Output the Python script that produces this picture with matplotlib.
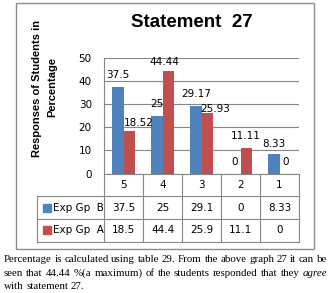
"""Statement 27: clustered bars with an Excel-style data table underneath."""
import matplotlib
matplotlib.use("Agg")
import matplotlib.pyplot as plt
from matplotlib.patches import Rectangle

categories = ["5", "4", "3", "2", "1"]
gp_b       = [37.5, 25, 29.17, 0, 8.33]
gp_a       = [18.52, 44.44, 25.93, 11.11, 0]
table_b    = ["37.5", "25", "29.1", "0", "8.33"]
table_a    = ["18.5", "44.4", "25.9", "11.1", "0"]
series     = ["Exp Gp  B", "Exp Gp  A"]

BLUE, RED, GRID = "#4F81BD", "#C0504D", "#868686"
W, H = 330, 293
BAR_W = 0.29
# label nudges (px) where the spreadsheet moved labels apart
NUDGE_B = [(0, 0), (0, 0), (0, 0), (0, 0), (0, -1)]
NUDGE_A = [(9, -4), (-4, -3), (8, -7), (0, 0), (0, 0)]


def fx(px):
    return px / W


def fy(py):
    return 1 - py / H


fig = plt.figure(figsize=(W / 100, H / 100), dpi=100)

# outer chart border
fig.patches.append(Rectangle((fx(15.7), fy(248.5)), fx(314.3) - fx(15.7),
                             fy(2.7) - fy(248.5), transform=fig.transFigure,
                             fill=False, edgecolor="#8c8c8c", lw=1))

ax = fig.add_axes([fx(104.3), fy(173.5), fx(299) - fx(104.3), fy(57.7) - fy(173.5)])
x = list(range(len(categories)))
ax.bar([i - BAR_W / 2 for i in x], gp_b, BAR_W, color=BLUE, zorder=3)
ax.bar([i + BAR_W / 2 for i in x], gp_a, BAR_W, color=RED, zorder=3)
ax.set_xlim(-0.5, 4.5)
ax.set_ylim(0, 50)
ax.set_yticks(range(0, 51, 10))
ax.set_xticks([])
ax.grid(axis="y", color=GRID, lw=0.8, zorder=0)
ax.tick_params(axis="y", length=0, pad=9, labelsize=7.5)
for s in ("top", "right"):
    ax.spines[s].set_visible(False)
for s in ("left", "bottom"):
    ax.spines[s].set_color(GRID)
    ax.spines[s].set_linewidth(0.8)

for i in x:
    for vals, off, nud in ((gp_b, -BAR_W / 2, NUDGE_B), (gp_a, BAR_W / 2, NUDGE_A)):
        v = vals[i]
        lbl = f"{v:g}"
        ax.annotate(lbl, (i + off, v), xytext=(nud[i][0] * 0.72, 8.3 + nud[i][1] * 0.72),
                    textcoords="offset points", ha="center", va="center",
                    fontsize=7.5, annotation_clip=False, zorder=4)

# data table
px_unit = (299 - 104.3) / 5
left_u = -0.5 - (104.3 - 37.3) / px_unit
tax = fig.add_axes([fx(37.3), fy(241.7), fx(299) - fx(37.3), fy(173.5) - fy(241.7)])
tax.set_xlim(left_u, 4.5)
tax.set_ylim(3, 0)
tax.axis("off")
for yy in (1, 2, 3):
    tax.plot([left_u, 4.5], [yy, yy], color=GRID, lw=0.8, clip_on=False)
tax.plot([left_u, left_u], [1, 3], color=GRID, lw=0.8, clip_on=False)
for k in range(6):
    tax.plot([k - 0.5, k - 0.5], [0, 3], color=GRID, lw=0.8, clip_on=False)
for i, c in enumerate(categories):
    tax.text(i, 0.5, c, ha="center", va="center", fontsize=7.5)
    tax.text(i, 1.5, table_b[i], ha="center", va="center", fontsize=7.5)
    tax.text(i, 2.5, table_a[i], ha="center", va="center", fontsize=7.5)
mark_x = -0.5 + (46.5 - 104.3) / px_unit
text_x = -0.5 + (53.3 - 104.3) / px_unit
for row, (name, col) in enumerate(zip(series, (BLUE, RED))):
    tax.plot([mark_x], [row + 1.5], marker="s", ms=6, color=col, ls="none", clip_on=False)
    tax.text(text_x, row + 1.5, name, ha="left", va="center", fontsize=7.5)

# title and axis title
fig.text(fx(192), fy(26.7), "Statement  27", ha="center", va="baseline",
         family="Liberation Sans", fontweight="bold", fontsize=13.5)
fig.text(fx(36.7), fy(88), "Responses of Students in", rotation=90, ha="center",
         va="center", family="Liberation Sans", fontweight="bold", fontsize=8)
fig.text(fx(52.5), fy(87), "Percentage", rotation=90, ha="center", va="center",
         family="Liberation Sans", fontweight="bold", fontsize=8)

# caption, justified like the source document
renderer = fig.canvas.get_renderer()
CAP_SIZE = 7.8
CAP = dict(family="Liberation Serif", fontsize=CAP_SIZE, va="baseline", ha="left")


def caption_line(words, base_py, justify=True):
    texts = []
    for w, style in words:
        texts.append(fig.text(fx(4), fy(base_py), w, style=style, **CAP))
    widths = [t.get_window_extent(renderer).width for t in texts]
    space = renderer.points_to_pixels(CAP_SIZE) * 0.25
    if justify and len(texts) > 1:
        gap = max((327 - 4 - sum(widths)) / (len(texts) - 1), space * 0.6)
    else:
        gap = space
    pos = 4
    for t, wd in zip(texts, widths):
        t.set_x(fx(pos))
        pos += wd + gap


line1 = "Percentage is calculated using table 29. From the above graph 27 it can be".split()
line2 = "seen that 44.44 %(a maximum) of the students responded that they".split()
caption_line([(w, "normal") for w in line1], 262.5)
caption_line([(w, "normal") for w in line2] + [("agree", "italic")], 275.8)
caption_line([(w, "normal") for w in "with statement 27.".split()], 289, justify=False)

fig.savefig("out.png", dpi=100)
